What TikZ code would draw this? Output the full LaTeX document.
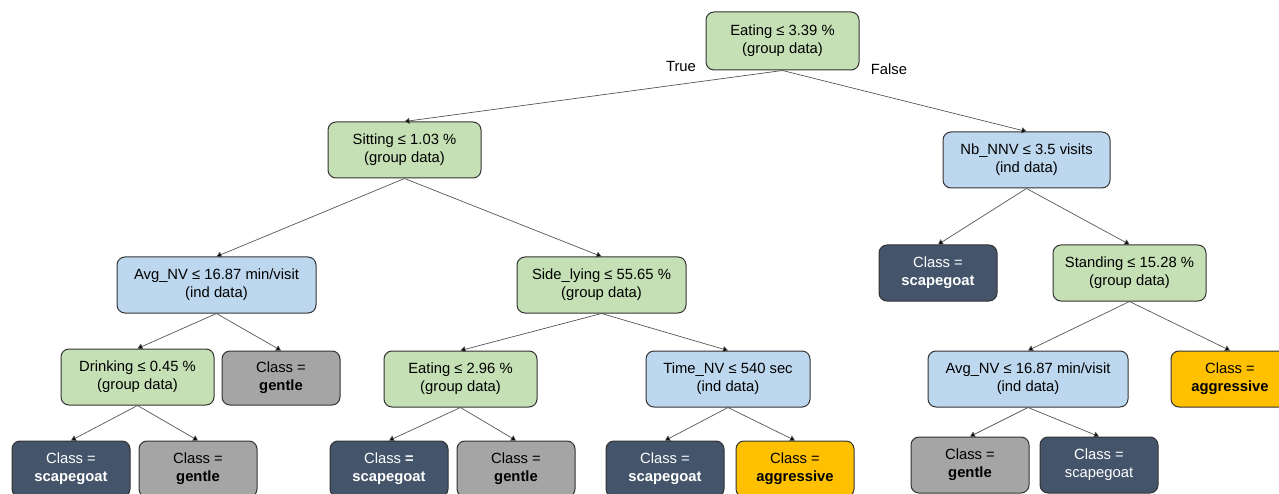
\documentclass[tikz,border=0pt]{standalone}
\usepackage{fontspec}
\setmainfont{Liberation Sans}
\usetikzlibrary{arrows.meta}
\definecolor{cgreen}{HTML}{C5E0B4}
\definecolor{cblue}{HTML}{BDD7EE}
\definecolor{cdark}{HTML}{44546A}
\definecolor{cgray}{HTML}{A5A5A5}
\definecolor{cyellow}{HTML}{FFC000}
\definecolor{cedge}{HTML}{555555}
\tikzset{
  box/.style={draw=black!80, line width=1pt, rounded corners=8pt, align=center,
    inner sep=0pt, minimum height=56pt, font=\fontsize{14.8}{18}\selectfont},
  greenbox/.style={box, fill=cgreen},
  bluebox/.style={box, fill=cblue},
  darkbox/.style={box, fill=cdark, text=white, minimum width=118pt},
  graybox/.style={box, fill=cgray, minimum width=118pt},
  yellowbox/.style={box, fill=cyellow, minimum width=118pt},
  edge/.style={draw=cedge, line width=0.7pt, -{Triangle[length=5pt,width=6pt,fill=black]}},
  lbl/.style={font=\fontsize{14.8}{18}\selectfont, inner sep=0pt}
}
\begin{document}
\begin{tikzpicture}[x=1pt,y=-1pt]
\useasboundingbox (0,0) rectangle (1279,494);
\clip (0,0) rectangle (1279,494);
\node[greenbox, minimum width=153pt, minimum height=58pt] (root) at (782.5,41) {Eating ≤ 3.39 \%\\(group data)};
\node[greenbox, minimum width=153pt] (sit) at (404.5,150) {Sitting ≤ 1.03 \%\\(group data)};
\node[bluebox, minimum width=167pt] (nb) at (1026.5,160) {Nb\_NNV ≤ 3.5 visits\\(ind data)};
\node[bluebox, minimum width=199pt] (avgl) at (216.5,285) {Avg\_NV ≤ 16.87 min/visit\\(ind data)};
\node[greenbox, minimum width=169pt] (side) at (601.5,285) {Side\_lying ≤ 55.65 \%\\(group data)};
\node[darkbox] (scr) at (938,273) {Class =\\\textbf{scapegoat}};
\node[greenbox, minimum width=153pt] (stand) at (1129.5,273) {Standing ≤ 15.28 \%\\(group data)};
\node[greenbox, minimum width=153pt] (drink) at (137.5,377) {Drinking ≤ 0.45 \%\\(group data)};
\node[graybox, minimum height=54pt] (gen1) at (281,378) {Class =\\\textbf{gentle}};
\node[greenbox, minimum width=153pt] (eat2) at (460.5,379) {Eating ≤ 2.96 \%\\(group data)};
\node[bluebox, minimum width=164pt] (time) at (728,379) {Time\_NV ≤ 540 sec\\(ind data)};
\node[bluebox, minimum width=200pt] (avgr) at (1028,379) {Avg\_NV ≤ 16.87 min/visit\\(ind data)};
\node[yellowbox] (agg1) at (1230,379) {Class =\\\textbf{aggressive}};
\node[darkbox] (sc1) at (71,469) {Class =\\\textbf{scapegoat}};
\node[graybox] (gen2) at (198,469) {Class =\\\textbf{gentle}};
\node[darkbox] (sc2) at (389,469) {Class \textbf{=}\\\textbf{scapegoat}};
\node[graybox] (gen3) at (516,469) {Class =\\\textbf{gentle}};
\node[darkbox] (sc3) at (665,469) {Class =\\\textbf{scapegoat}};
\node[yellowbox] (agg2) at (795,469) {Class =\\\textbf{aggressive}};
\node[graybox] (gen4) at (970,465) {Class =\\\textbf{gentle}};
\node[darkbox] (sc4) at (1099,465) {Class =\\scapegoat};
\node[lbl] (true) at (681,66) {True};
\node[lbl] (false) at (889,69) {False};
\draw[edge] (root.south) -- (sit.north);
\draw[edge] (root.south) -- (nb.north);
\draw[edge] (sit.south) -- (avgl.north);
\draw[edge] (sit.south) -- (side.north);
\draw[edge] (nb.south) -- (scr.north);
\draw[edge] (nb.south) -- (stand.north);
\draw[edge] (avgl.south) -- (drink.north);
\draw[edge] (avgl.south) -- (gen1.north);
\draw[edge] (side.south) -- (eat2.north);
\draw[edge] (side.south) -- (time.north);
\draw[edge] (stand.south) -- (avgr.north);
\draw[edge] (stand.south) -- (agg1.north);
\draw[edge] (drink.south) -- (sc1.north);
\draw[edge] (drink.south) -- (gen2.north);
\draw[edge] (eat2.south) -- (sc2.north);
\draw[edge] (eat2.south) -- (gen3.north);
\draw[edge] (time.south) -- (sc3.north);
\draw[edge] (time.south) -- (agg2.north);
\draw[edge] (avgr.south) -- (gen4.north);
\draw[edge] (avgr.south) -- (sc4.north);
\end{tikzpicture}
\end{document}
